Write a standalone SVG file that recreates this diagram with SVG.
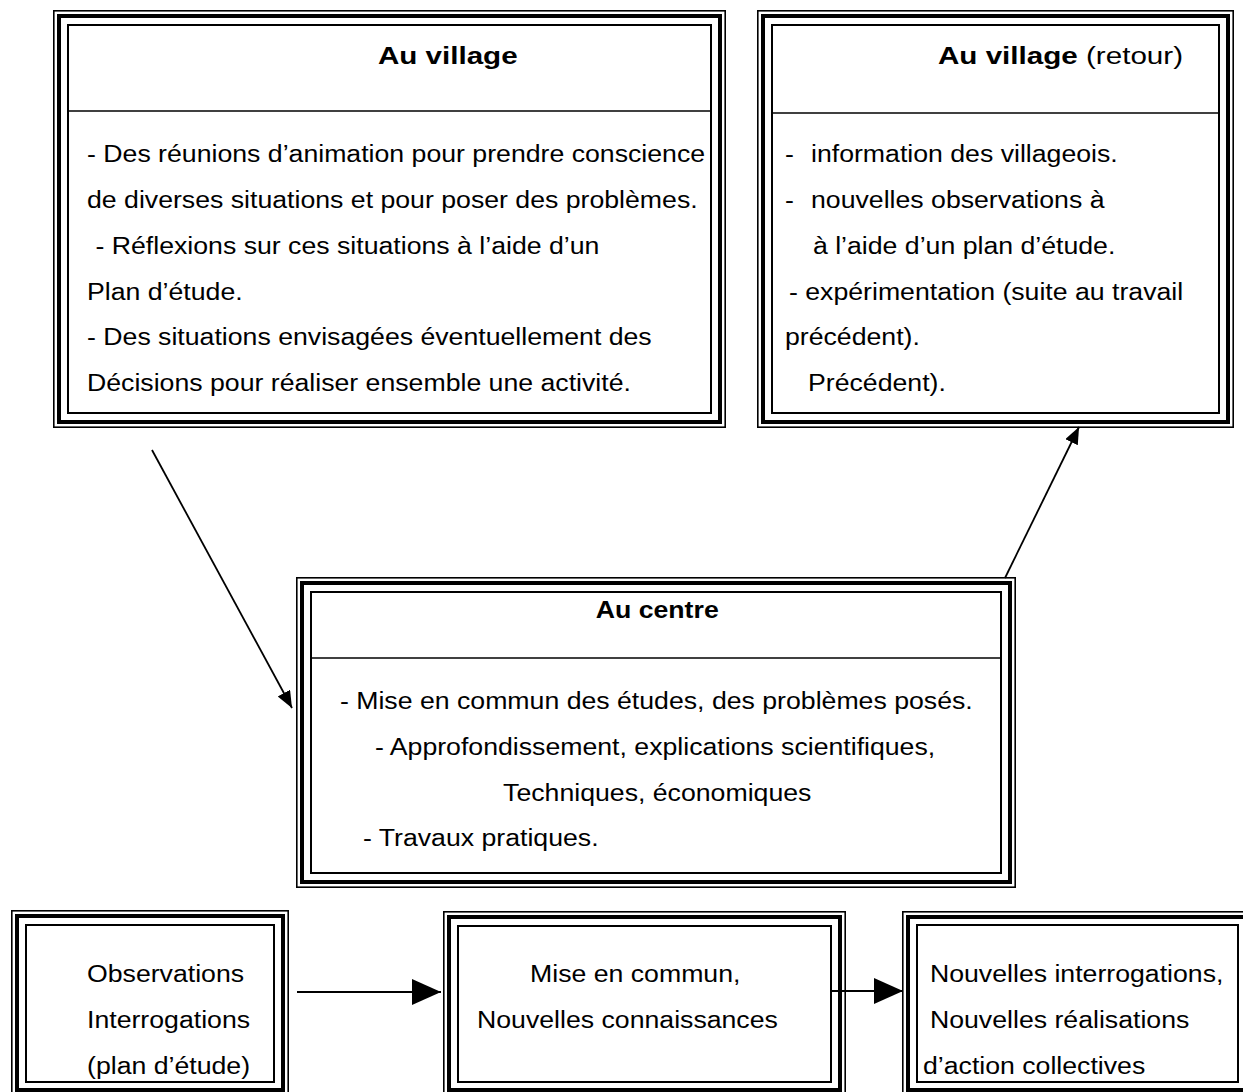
<svg xmlns="http://www.w3.org/2000/svg" width="1243" height="1092" viewBox="0 0 1243 1092">
  <style>
    .bg { fill: #ffffff; }
    .b-out { fill: none; stroke: #000; stroke-width: 1.6; }
    .b-mid { fill: none; stroke: #000; stroke-width: 4; }
    .b-in { fill: none; stroke: #000; stroke-width: 2; }
    .div { stroke: #000; stroke-width: 1.6; }
    .conn { stroke: #000; stroke-width: 1.8; fill: none; }
    text { font-family: "Liberation Sans", Arial, sans-serif; font-size: 23.3px; fill: #000; }
    .t { font-weight: bold; }
    .mid { text-anchor: middle; }
  </style>
  <defs>
    <!-- triple border: thin / thick / thin -->
    <marker id="headS" markerUnits="userSpaceOnUse" markerWidth="20" markerHeight="16" refX="17" refY="7" orient="auto">
      <path d="M0,0 L17,7 L0,14 Z" fill="#000"/>
    </marker>
    <marker id="headL" markerUnits="userSpaceOnUse" markerWidth="32" markerHeight="28" refX="29" refY="13" orient="auto">
      <path d="M0,0 L29,13 L0,26 Z" fill="#000"/>
    </marker>
  </defs>

  <rect class="bg" x="0" y="0" width="1243" height="1092"/>

  <!-- box: Au village -->
  <g id="village">
    <rect class="b-out" x="53.8" y="10.8" width="671.4" height="416.4"/>
    <rect class="b-mid" x="59" y="16" width="661" height="406"/>
    <rect class="b-in" x="68" y="25" width="643" height="388"/>
    <line class="div" x1="68" y1="111" x2="711" y2="111"/>
  </g>

  <!-- box: Au village (retour) -->
  <g id="village-retour">
    <rect class="b-out" x="757.8" y="10.8" width="475.4" height="416.4"/>
    <rect class="b-mid" x="763" y="16" width="465" height="406"/>
    <rect class="b-in" x="772" y="25" width="447" height="388"/>
    <line class="div" x1="772" y1="113" x2="1219" y2="113"/>
  </g>

  <!-- box: Au centre -->
  <g id="centre">
    <rect class="b-out" x="296.8" y="577.8" width="718.4" height="309.4"/>
    <rect class="b-mid" x="302" y="583" width="708" height="299"/>
    <rect class="b-in" x="311" y="592" width="690" height="281"/>
    <line class="div" x1="311" y1="658" x2="1001" y2="658"/>
  </g>

  <!-- box: Observations -->
  <g id="observations">
    <rect class="b-out" x="11.8" y="910.8" width="276.4" height="190"/>
    <rect class="b-mid" x="17" y="916" width="266" height="174"/>
    <rect class="b-in" x="26" y="925" width="248" height="157"/>
  </g>

  <!-- box: Mise en commun -->
  <g id="mise-en-commun">
    <rect class="b-out" x="443.8" y="911.8" width="401.4" height="190"/>
    <rect class="b-mid" x="449" y="917" width="391" height="173"/>
    <rect class="b-in" x="458" y="926" width="373" height="156"/>
  </g>

  <!-- box: Nouvelles interrogations -->
  <g id="nouvelles">
    <rect class="b-out" x="902.8" y="911.8" width="360" height="190"/>
    <rect class="b-mid" x="908" y="917" width="350" height="173"/>
    <rect class="b-in" x="917" y="925" width="321" height="157"/>
  </g>

  <!-- connectors -->
  <g id="connectors">
    <line class="conn" x1="152" y1="450" x2="292" y2="708" marker-end="url(#headS)"/>
    <line class="conn" x1="1005" y1="578" x2="1079" y2="427" marker-end="url(#headS)"/>
    <line class="conn" x1="297" y1="992" x2="441" y2="992" marker-end="url(#headL)"/>
    <line class="conn" x1="830" y1="991" x2="903" y2="991" marker-end="url(#headL)"/>
  </g>

  <!-- labels, drawn with a slight horizontal stretch -->
  <g id="labels" transform="scale(1.145 1)">
    <text class="t" x="330.1" y="64" textLength="122" lengthAdjust="spacingAndGlyphs">Au village</text>
    <text x="76" y="162">- Des réunions d’animation pour prendre conscience</text>
    <text x="76" y="208">de diverses situations et pour poser des problèmes.</text>
    <text x="83.4" y="254">- Réflexions sur ces situations à l’aide d’un</text>
    <text x="76" y="300">Plan d’étude.</text>
    <text x="76" y="345">- Des situations envisagées éventuellement des</text>
    <text x="76" y="391">Décisions pour réaliser ensemble une activité.</text>

    <text x="819.2" y="64" textLength="214" lengthAdjust="spacingAndGlyphs"><tspan class="t">Au village</tspan> (retour)</text>
    <text y="162"><tspan x="685.6">-</tspan><tspan x="708.3">information des villageois.</tspan></text>
    <text y="208"><tspan x="685.6">-</tspan><tspan x="708.3">nouvelles observations à</tspan></text>
    <text x="710" y="254">à l’aide d’un plan d’étude.</text>
    <text x="689.1" y="300">- expérimentation (suite au travail</text>
    <text x="685.6" y="345">précédent).</text>
    <text x="705.7" y="391">Précédent).</text>

    <text class="t mid" x="574" y="618">Au centre</text>
    <text x="296.9" y="709">- Mise en commun des études, des problèmes posés.</text>
    <text x="327.5" y="755">- Approfondissement, explications scientifiques,</text>
    <text class="mid" x="574" y="801">Techniques, économiques</text>
    <text x="317" y="846">- Travaux pratiques.</text>

    <text x="76" y="982">Observations</text>
    <text x="76" y="1028">Interrogations</text>
    <text x="76" y="1074">(plan d’étude)</text>

    <text x="462.9" y="982">Mise en commun,</text>
    <text x="416.6" y="1028">Nouvelles connaissances</text>

    <text x="812.2" y="982">Nouvelles interrogations,</text>
    <text x="812.2" y="1028">Nouvelles réalisations</text>
    <text x="806.1" y="1074">d’action collectives</text>
  </g>
</svg>
